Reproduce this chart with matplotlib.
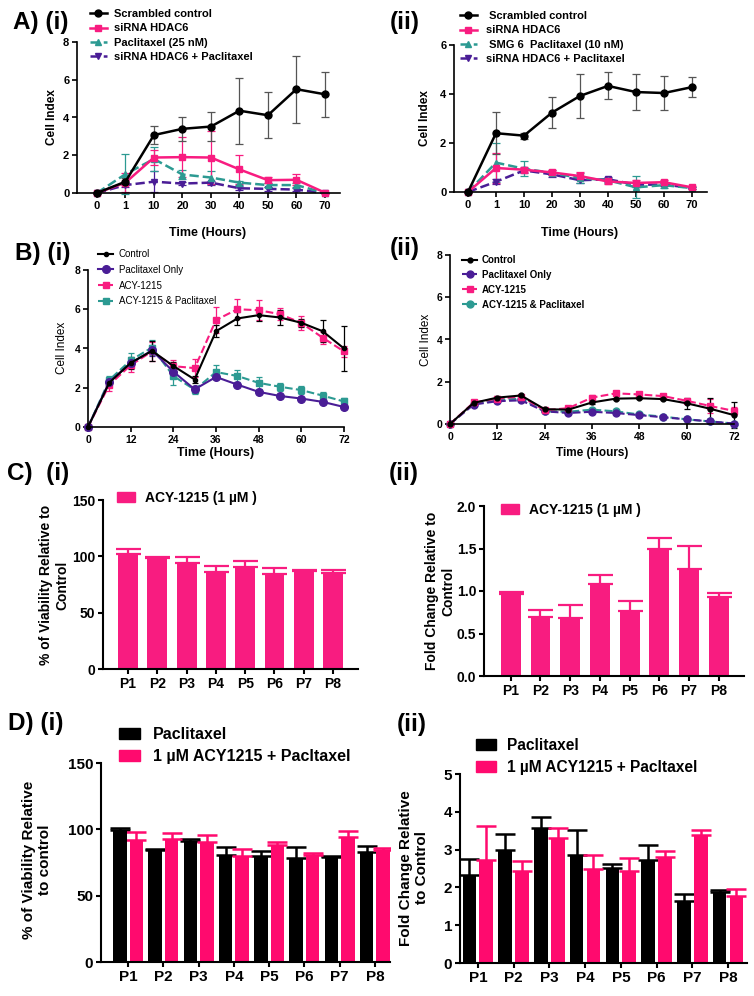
import numpy as np
import matplotlib.pyplot as plt
from matplotlib.lines import Line2D
from matplotlib.patches import Patch

plt.rcParams['font.family'] = ['Liberation Sans', 'DejaVu Sans']

W, H = 754, 996

BLACK = '#000000'
PINK = '#F81C80'
PINK_D = '#FF0A6E'
TEAL = '#2C9A92'
PURPLE = '#4A1D96'

# ---- A: siRNA HDAC6 time courses
a_time = ['0', '1', '10', '20', '30', '40', '50', '60', '70']
a1_scr = [0, 0.6, 3.07, 3.4, 3.52, 4.36, 4.12, 5.5, 5.23]
a1_scr_err = [0.05, 0.2, 0.5, 0.62, 0.78, 1.75, 1.22, 1.78, 1.18]
a1_si = [0, 0.55, 1.88, 1.9, 1.88, 1.25, 0.68, 0.7, 0.02]
a1_si_err = [0.05, 0.5, 0.4, 1.05, 1.4, 0.75, 0.15, 0.3, 0.05]
a1_pac = [0, 1.0, 1.8, 0.98, 0.82, 0.55, 0.42, 0.42, 0.0]
a1_pac_err = [0, 1.05, 0.65, 0.25, 0.35, 0.1, 0.1, 0.1, 0]
a1_comb = [0, 0.42, 0.6, 0.5, 0.55, 0.25, 0.22, 0.18, 0.0]
a1_comb_err = [0, 0.1, 0.55, 0.1, 0.1, 0.1, 0.1, 0.1, 0]

a2_scr = [0, 2.4, 2.3, 3.24, 3.92, 4.33, 4.08, 4.04, 4.28]
a2_scr_err = [0.05, 0.85, 0.12, 0.62, 0.9, 0.55, 0.75, 0.7, 0.4]
a2_si = [0, 0.98, 0.91, 0.8, 0.65, 0.43, 0.37, 0.4, 0.19]
a2_si_err = [0, 0.6, 0.1, 0.1, 0.15, 0.1, 0.1, 0.1, 0.05]
a2_smg = [0, 1.2, 0.95, 0.78, 0.57, 0.48, 0.19, 0.28, 0.16]
a2_smg_err = [0, 0.8, 0.3, 0.1, 0.2, 0.1, 0.45, 0.1, 0.05]
a2_comb = [0, 0.42, 0.88, 0.72, 0.48, 0.52, 0.3, 0.3, 0.17]
a2_comb_err = [0, 0.1, 0.1, 0.1, 0.1, 0.1, 0.1, 0.05, 0.05]

# ---- B: ACY-1215 time courses
b_time = [0, 6, 12, 18, 24, 30, 36, 42, 48, 54, 60, 66, 72]
b1_ctrl = [0, 2.26, 3.27, 3.88, 3.11, 2.42, 4.88, 5.53, 5.7, 5.58, 5.31, 4.88, 4.0]
b1_ctrl_err = [0, 0.15, 0.3, 0.5, 0.2, 0.2, 0.3, 0.35, 0.3, 0.4, 0.2, 0.55, 1.15]
b1_pac = [0, 2.3, 3.25, 3.9, 2.82, 1.92, 2.55, 2.16, 1.79, 1.58, 1.45, 1.28, 1.02]
b1_pac_err = [0, 0.15, 0.2, 0.3, 0.15, 0.1, 0.1, 0.1, 0.1, 0.1, 0.1, 0.1, 0.1]
b1_acy = [0, 2.15, 3.15, 3.85, 3.1, 3.0, 5.45, 6.0, 5.95, 5.75, 5.3, 4.55, 3.85]
b1_acy_err = [0, 0.3, 0.35, 0.5, 0.3, 0.45, 0.65, 0.5, 0.5, 0.3, 0.35, 0.3, 0.3]
b1_comb = [0, 2.4, 3.4, 4.05, 2.6, 1.9, 2.8, 2.6, 2.25, 2.05, 1.88, 1.6, 1.3]
b1_comb_err = [0, 0.2, 0.35, 0.4, 0.45, 0.2, 0.35, 0.3, 0.3, 0.2, 0.2, 0.2, 0.2]

b2_ctrl = [0, 1.0, 1.25, 1.35, 0.7, 0.68, 1.02, 1.2, 1.22, 1.18, 0.98, 0.72, 0.42]
b2_ctrl_err = [0, 0.05, 0.08, 0.08, 0.05, 0.05, 0.05, 0.05, 0.05, 0.05, 0.25, 0.5, 0.6]
b2_pac = [0, 0.92, 1.08, 1.12, 0.6, 0.52, 0.58, 0.52, 0.42, 0.32, 0.22, 0.12, 0.02]
b2_pac_err = [0, 0.05, 0.05, 0.05, 0.05, 0.05, 0.05, 0.05, 0.05, 0.05, 0.05, 0.05, 0.02]
b2_acy = [0, 1.02, 1.2, 1.3, 0.65, 0.75, 1.25, 1.45, 1.4, 1.32, 1.1, 0.85, 0.62]
b2_acy_err = [0, 0.05, 0.05, 0.05, 0.05, 0.08, 0.1, 0.08, 0.08, 0.08, 0.1, 0.35, 0.2]
b2_comb = [0, 0.95, 1.15, 1.2, 0.6, 0.58, 0.68, 0.6, 0.45, 0.35, 0.22, 0.12, 0.02]
b2_comb_err = [0, 0.05, 0.05, 0.05, 0.05, 0.05, 0.08, 0.05, 0.05, 0.05, 0.05, 0.05, 0.02]

# ---- C / D: per patient bars
patients = ['P1', 'P2', 'P3', 'P4', 'P5', 'P6', 'P7', 'P8']
c1_via = [102.4, 98.8, 94, 86.5, 90.3, 84, 87, 85.3]
c1_err = [4.4, 1, 5, 5.3, 5.3, 5.7, 1, 2.7]
c2_fold = [0.965, 0.69, 0.68, 1.086, 0.77, 1.49, 1.26, 0.93]
c2_err = [0.02, 0.09, 0.15, 0.1, 0.11, 0.13, 0.27, 0.05]

d1_pac = [99.3, 84.3, 91, 81, 79.8, 78.5, 79, 83]
d1_pac_err = [1.5, 1, 2, 5.5, 3.5, 8, 1, 4.5]
d1_comb = [92.3, 93, 90.3, 80, 88, 80.8, 94.5, 84.7]
d1_comb_err = [5.8, 4.5, 5.3, 5, 2.8, 1.5, 4.3, 1]
d2_pac = [2.34, 2.98, 3.56, 2.85, 2.51, 2.73, 1.63, 1.89]
d2_pac_err = [0.4, 0.44, 0.3, 0.68, 0.12, 0.39, 0.19, 0.05]
d2_comb = [2.73, 2.43, 3.32, 2.48, 2.43, 2.8, 3.38, 1.78]
d2_comb_err = [0.9, 0.26, 0.25, 0.39, 0.35, 0.16, 0.14, 0.19]

fig = plt.figure(figsize=(W / 100, H / 100), dpi=100)


def box(l, t, r, b):
    return fig.add_axes([l / W, 1 - b / H, (r - l) / W, (b - t) / H])


def ftext(x, y, s, **kw):
    fig.text(x / W, 1 - y / H, s, **kw)


def style(ax, fs, lw=1.2):
    for s in ['top', 'right']:
        ax.spines[s].set_visible(False)
    for s in ['left', 'bottom']:
        ax.spines[s].set_linewidth(lw)
    ax.tick_params(width=lw, length=3.5, labelsize=fs, pad=2)
    for t in ax.get_xticklabels() + ax.get_yticklabels():
        t.set_fontweight('bold')


def legend(ax, handles, labels, x, y, fs, weight='bold', hl=1.5, pad=0.7,
           sp=0.2, hh=0.7):
    ax.legend(handles, labels, loc='upper left', bbox_to_anchor=(x / W, 1 - y / H),
              bbox_transform=fig.transFigure, frameon=False, borderpad=0,
              borderaxespad=0, handlelength=hl, handletextpad=pad,
              labelspacing=sp, handleheight=hh,
              prop={'size': fs, 'weight': weight})


def lines(ax, x, series, lw, cap):
    handles = []
    for vals, err, col, mk, ls, ms, ecol in series:
        ax.errorbar(x, vals, yerr=err, color=col, marker=mk, ms=ms, lw=lw,
                    ls=ls, ecolor=ecol, elinewidth=0.9, capsize=cap,
                    capthick=0.9, clip_on=False)
        handles.append(Line2D([], [], color=col, marker=mk, ms=ms, lw=lw, ls=ls))
    return handles


# ---------------- A (i)
ax = box(77, 42, 340, 193)
xa = np.arange(len(a_time))
h = lines(ax, xa, [
    (a1_comb, a1_comb_err, PURPLE, 'v', '--', 5, PURPLE),
    (a1_pac, a1_pac_err, TEAL, '^', '--', 5, TEAL),
    (a1_si, a1_si_err, PINK, 's', '-', 5, PINK),
    (a1_scr, a1_scr_err, BLACK, 'o', '-', 5, '#555555'),
], 1.8, 3)
ax.set_xlim(-0.7, 8.53)
ax.set_ylim(0, 8)
ax.set_xticks(xa)
ax.set_xticklabels(a_time)
ax.set_yticks([0, 2, 4, 6, 8])
style(ax, 8)
legend(ax, h[::-1], ['Scrambled control', 'siRNA HDAC6', 'Paclitaxel (25 nM)',
                     'siRNA HDAC6 + Paclitaxel'], 90, 9, 8, hl=1.5, pad=0.7, sp=0.4)
ftext(52, 117, 'Cell Index', rotation=90, ha='center', va='center', fontsize=8.5, fontweight='bold')
ftext(208, 233, 'Time (Hours)', ha='center', va='center', fontsize=9, fontweight='bold')

# ---------------- A (ii)
ax = box(454, 45, 707, 192)
h = lines(ax, xa, [
    (a2_comb, a2_comb_err, PURPLE, 'v', '--', 5, PURPLE),
    (a2_smg, a2_smg_err, TEAL, '^', '--', 5, TEAL),
    (a2_si, a2_si_err, PINK, 's', '-', 5, PINK),
    (a2_scr, a2_scr_err, BLACK, 'o', '-', 5, '#555555'),
], 1.8, 3)
ax.set_xlim(-0.5, 8.54)
ax.set_ylim(0, 6)
ax.set_xticks(xa)
ax.set_xticklabels(a_time)
ax.set_yticks([0, 2, 4, 6])
style(ax, 8)
legend(ax, h[::-1], [' Scrambled control', 'siRNA HDAC6', ' SMG 6  Paclitaxel (10 nM)',
                     'siRNA HDAC6 + Paclitaxel'], 460, 11, 8, hl=1.5, pad=0.8, sp=0.4)
ftext(425, 118, 'Cell Index', rotation=90, ha='center', va='center', fontsize=8.5, fontweight='bold')
ftext(580, 233, 'Time (Hours)', ha='center', va='center', fontsize=9, fontweight='bold')

# ---------------- B (i)
ax = box(88, 270, 344, 427)
h = lines(ax, b_time, [
    (b1_comb, b1_comb_err, TEAL, 's', '--', 4.5, TEAL),
    (b1_acy, b1_acy_err, PINK, 's', '--', 4.5, PINK),
    (b1_pac, b1_pac_err, PURPLE, 'o', '-', 5.5, PURPLE),
    (b1_ctrl, b1_ctrl_err, BLACK, 'o', '-', 3, BLACK),
], 1.5, 2.5)
ax.set_xlim(0, 72)
ax.set_ylim(0, 8)
ax.set_xticks(range(0, 73, 12))
ax.set_yticks([0, 2, 4, 6, 8])
style(ax, 7.5)
legend(ax, h[::-1], ['Control', 'Paclitaxel Only', 'ACY-1215', 'ACY-1215 & Paclitaxel'],
       98, 249, 7, weight='normal', hl=1.55, pad=0.6, sp=0.6)
ftext(62, 348, 'Cell Index', rotation=90, ha='center', va='center', fontsize=8.5)
ftext(216, 453, 'Time (Hours)', ha='center', va='center', fontsize=9, fontweight='bold')

# ---------------- B (ii)
ax = box(450, 255, 734, 424)
h = lines(ax, b_time, [
    (b2_comb, b2_comb_err, TEAL, 'o', '--', 5, TEAL),
    (b2_pac, b2_pac_err, PURPLE, 'o', '--', 5, PURPLE),
    (b2_acy, b2_acy_err, PINK, 's', '--', 4.5, PINK),
    (b2_ctrl, b2_ctrl_err, BLACK, 'o', '-', 3.5, BLACK),
], 1.5, 2.5)
ax.set_xlim(0, 72)
ax.set_ylim(0, 8)
ax.set_xticks(range(0, 73, 12))
ax.set_yticks([0, 2, 4, 6, 8])
style(ax, 7.5)
hb = [h[3], h[1], h[2], h[0]]
legend(ax, hb, ['Control', 'Paclitaxel Only', 'ACY-1215', 'ACY-1215 & Paclitaxel'],
       462, 255, 7, weight='bold', hl=1.55, pad=0.5, sp=0.5)
ftext(426, 340, 'Cell Index', rotation=90, ha='center', va='center', fontsize=8.5)
ftext(592, 453, 'Time (Hours)', ha='center', va='center', fontsize=8.5, fontweight='bold')

# ---------------- C (i)
xp = np.arange(len(patients))
ax = box(103, 500, 358, 669)
ax.bar(xp, c1_via, 0.68, color=PINK, zorder=2)
ax.errorbar(xp, c1_via, yerr=[np.zeros(8), c1_err], fmt='none', ecolor=PINK,
            elinewidth=1.6, capsize=9, capthick=1.6, zorder=1)
ax.set_xlim(-0.85, 7.85)
ax.set_ylim(0, 150)
ax.set_xticks(xp)
ax.set_xticklabels(patients)
ax.set_yticks([0, 50, 100, 150])
style(ax, 10, lw=1.5)
legend(ax, [Patch(color=PINK)], ['ACY-1215 (1 \u00b5M )'], 117, 491, 10,
       hl=1.3, pad=0.72, hh=0.8)
ftext(54, 585, '% of Viability Relative to\nControl', rotation=90, ha='center',
      va='center', fontsize=10, fontweight='bold', linespacing=1.25)

# ---------------- C (ii)
ax = box(484, 506, 744, 676)
ax.bar(xp, c2_fold, 0.67, color=PINK, zorder=2)
ax.errorbar(xp, c2_fold, yerr=[np.zeros(8), c2_err], fmt='none', ecolor=PINK,
            elinewidth=1.6, capsize=9, capthick=1.6, zorder=1)
ax.set_xlim(-0.9, 7.85)
ax.set_ylim(0, 2)
ax.set_xticks(xp)
ax.set_xticklabels(patients)
ax.set_yticks([0, 0.5, 1.0, 1.5, 2.0])
ax.set_yticklabels(['0.0', '0.5', '1.0', '1.5', '2.0'])
style(ax, 10, lw=1.5)
legend(ax, [Patch(color=PINK)], ['ACY-1215 (1 \u00b5M )'], 501, 503, 10,
       hl=1.3, pad=0.72, hh=0.8)
ftext(440, 591, 'Fold Change Relative to\nControl', rotation=90, ha='center',
      va='center', fontsize=10, fontweight='bold', linespacing=1.25)

# ---------------- D (i)
off, bw = 0.235, 0.38
ax = box(101, 763, 390, 962)
ax.bar(xp - off, d1_pac, bw, color=BLACK, zorder=2)
ax.bar(xp + off, d1_comb, bw, color=PINK_D, zorder=2)
ax.errorbar(xp - off, d1_pac, yerr=[np.zeros(8), d1_pac_err], fmt='none', ecolor=BLACK,
            elinewidth=1.8, capsize=7, capthick=1.8, zorder=1)
ax.errorbar(xp + off, d1_comb, yerr=[np.zeros(8), d1_comb_err], fmt='none', ecolor=PINK_D,
            elinewidth=1.8, capsize=7, capthick=1.8, zorder=1)
ax.set_xlim(-0.77, 7.43)
ax.set_ylim(0, 150)
ax.set_xticks(xp)
ax.set_xticklabels(patients)
ax.set_yticks([0, 50, 100, 150])
style(ax, 11, lw=1.5)
legend(ax, [Patch(color=BLACK), Patch(color=PINK_D)],
       ['Paclitaxel', '1 \u00b5M ACY1215 + Pacltaxel'], 119, 727, 11.5,
       hl=1.3, pad=0.8, sp=0.45, hh=0.65)
ftext(37, 860, '% of Viability Relative\nto control', rotation=90, ha='center',
      va='center', fontsize=11, fontweight='bold', linespacing=1.2)

# ---------------- D (ii)
ax = box(460, 774, 747, 963)
ax.bar(xp - off, d2_pac, bw, color=BLACK, zorder=2)
ax.bar(xp + off, d2_comb, bw, color=PINK_D, zorder=2)
ax.errorbar(xp - off, d2_pac, yerr=[np.zeros(8), d2_pac_err], fmt='none', ecolor=BLACK,
            elinewidth=1.8, capsize=7, capthick=1.8, zorder=1)
ax.errorbar(xp + off, d2_comb, yerr=[np.zeros(8), d2_comb_err], fmt='none', ecolor=PINK_D,
            elinewidth=1.8, capsize=7, capthick=1.8, zorder=1)
ax.set_xlim(-0.5, 7.53)
ax.set_ylim(0, 5)
ax.set_xticks(xp)
ax.set_xticklabels(patients)
ax.set_yticks([0, 1, 2, 3, 4, 5])
style(ax, 11, lw=1.5)
legend(ax, [Patch(color=BLACK), Patch(color=PINK_D)],
       ['Paclitaxel', '1 \u00b5M ACY1215 + Pacltaxel'], 476, 738, 11.2,
       hl=1.3, pad=0.7, sp=0.45, hh=0.65)
ftext(414, 868, 'Fold Change Relative\nto Control', rotation=90, ha='center',
      va='center', fontsize=11, fontweight='bold', linespacing=1.2)

# ---------------- panel letters
for x, y, s in [(13, 22, 'A) (i)'), (390, 22, '(ii)'),
                (15, 253, 'B) (i)'), (390, 248, '(ii)'),
                (7, 473, 'C)  (i)'), (389, 473, '(ii)'),
                (8, 723, 'D) (i)'), (397, 725, '(ii)')]:
    ftext(x, y, s, ha='left', va='center', fontsize=17.5, fontweight='bold')

fig.savefig('out.png', dpi=100)
